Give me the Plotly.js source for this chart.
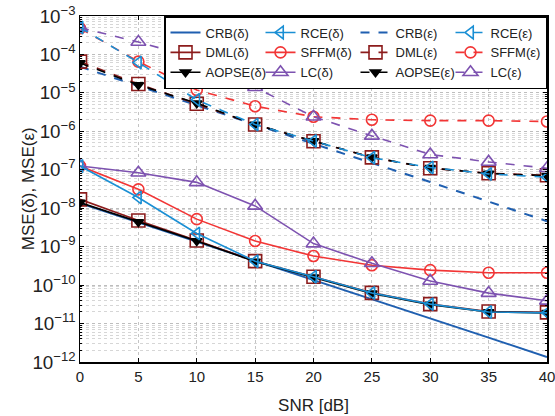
<!DOCTYPE html>
<html>
<head>
<meta charset="utf-8">
<script src="https://cdn.plot.ly/plotly-3.0.1.min.js"></script>
<style>html,body{margin:0;padding:0;background:#fff;}#chart{width:555px;height:416px;}</style>
</head>
<body>
<div id="chart"></div>
<script>
const snr = [0, 5, 10, 15, 20, 25, 30, 35, 40];

const crbD   = [1.35e-8, 4.3e-9, 1.35e-9, 4.3e-10, 1.35e-10, 4.3e-11, 1.35e-11, 4.3e-12, 1.35e-12];
const rceD   = [1.25e-7, 1.9e-8, 2.2e-9, 4.2e-10, 1.65e-10, 6.2e-11, 3.2e-11, 2.0e-11, 1.9e-11];
const dmlD   = [1.7e-8, 4.8e-9, 1.45e-9, 4.2e-10, 1.65e-10, 6.3e-11, 3.2e-11, 2.05e-11, 1.95e-11];
const aopseD = [1.4e-8, 4.4e-9, 1.4e-9, 4.1e-10, 1.6e-10, 6.1e-11, 3.1e-11, 2.0e-11, 1.9e-11];
const sffmD  = [1.25e-7, 3.1e-8, 5.2e-9, 1.4e-9, 5.7e-10, 3.3e-10, 2.45e-10, 2.1e-10, 2.1e-10];
const lcD    = [1.25e-7, 8.4e-8, 4.7e-8, 1.15e-8, 1.2e-9, 3.7e-10, 1.28e-10, 6.2e-11, 3.9e-11];

const crbE   = [4.8e-5, 1.5e-5, 4.8e-6, 1.5e-6, 4.8e-7, 1.5e-7, 4.8e-8, 1.5e-8, 4.6e-9];
const rceE   = [5.0e-4, 6.2e-5, 6.6e-6, 1.5e-6, 5.6e-7, 2.05e-7, 1.15e-7, 7.8e-8, 6.4e-8];
const dmlE   = [6.5e-5, 1.7e-5, 5.2e-6, 1.5e-6, 5.5e-7, 2.1e-7, 1.1e-7, 8.1e-8, 7.2e-8];
const aopseE = [6.0e-5, 1.6e-5, 5.4e-6, 1.5e-6, 5.6e-7, 2.1e-7, 1.12e-7, 8.0e-8, 7.0e-8];
const sffmE  = [4.8e-4, 6.5e-5, 1.19e-5, 4.5e-6, 2.4e-6, 2.0e-6, 1.9e-6, 1.9e-6, 1.8e-6];
const lcE    = [5.0e-4, 2.1e-4, 8.0e-5, 1.4e-5, 2.4e-6, 7.6e-7, 2.5e-7, 1.6e-7, 1.1e-7];

const C = {crb:'#1f5fb0', rce:'#1a8fd4', dml:'#8c1c1c', sffm:'#f23535', aopse:'#000000', lc:'#7d52b0'};

function tr(name, y, color, dash, symbol, size, rank, lw) {
  const t = {
    x: snr, y: y, name: name, type: 'scatter',
    mode: symbol ? 'lines+markers' : 'lines',
    legendrank: rank,
    line: {color: color, width: lw || 1.6, dash: dash}
  };
  if (symbol) {
    t.marker = {symbol: symbol, size: size, color: color, line: {color: color, width: 1.6}};
  }
  return t;
}

const data = [
  tr('CRB(δ)', crbD, C.crb, 'solid', null, 0, 1, 2),
  tr('CRB(ε)', crbE, C.crb, 'dash', null, 0, 3, 2),
  tr('DML(δ)', dmlD, C.dml, 'solid', 'square-open', 13, 5),
  tr('DML(ε)', dmlE, C.dml, 'dash', 'square-open', 13, 7),
  tr('AOPSE(δ)', aopseD, C.aopse, 'solid', 'triangle-down', 9, 9),
  tr('AOPSE(ε)', aopseE, C.aopse, 'dash', 'triangle-down', 9, 11),
  tr('SFFM(δ)', sffmD, C.sffm, 'solid', 'circle-open', 11, 6),
  tr('SFFM(ε)', sffmE, C.sffm, 'dash', 'circle-open', 11, 8),
  tr('LC(δ)', lcD, C.lc, 'solid', 'triangle-up-open', 13, 10),
  tr('LC(ε)', lcE, C.lc, 'dash', 'triangle-up-open', 13, 12),
  tr('RCE(δ)', rceD, C.rce, 'solid', 'triangle-left-open', 11, 2),
  tr('RCE(ε)', rceE, C.rce, 'dash', 'triangle-left-open', 11, 4)
];

const font = 'Liberation Sans, Arial, Helvetica, sans-serif';

const layout = {
  width: 555, height: 416,
  margin: {l: 80, r: 8, t: 16, b: 54},
  paper_bgcolor: '#fff', plot_bgcolor: '#fff',
  font: {family: font, color: '#222'},
  showlegend: true,
  legend: {
    orientation: 'h', x: 1, xanchor: 'right', y: 1, yanchor: 'top',
    bgcolor: '#fff', bordercolor: '#000', borderwidth: 1.5,
    font: {family: font, size: 13, color: '#222'},
    entrywidth: 50, entrywidthmode: 'pixels', itemwidth: 30
  },
  annotations: [{
    text: 'MSE(δ), MSE(ε)', textangle: -90, showarrow: false,
    xref: 'paper', yref: 'paper', x: -0.111, y: 0.5, xanchor: 'center', yanchor: 'middle',
    font: {family: font, size: 17, color: '#222'}
  }],
  xaxis: {
    range: [0, 40], dtick: 5, tick0: 0,
    showline: true, linecolor: '#000', linewidth: 1.5, mirror: 'ticks',
    ticks: 'inside', ticklen: 4, tickcolor: '#000',
    showgrid: true, gridcolor: '#c4c4c4', griddash: 'dot', gridwidth: 1,
    zeroline: false, ticklabeloverflow: 'allow',
    tickfont: {family: font, size: 15, color: '#222'},
    title: {text: 'SNR [dB]', font: {family: font, size: 17, color: '#222'}, standoff: 15}
  },
  yaxis: {
    type: 'log', range: [-12, -3], dtick: 1,
    exponentformat: 'power',
    showline: true, linecolor: '#000', linewidth: 1.5, mirror: 'ticks',
    ticks: 'inside', ticklen: 4, tickcolor: '#000',
    showgrid: true, gridcolor: '#bdbdbd', griddash: 'dot', gridwidth: 1,
    zeroline: false,
    minor: {dtick: 'D1', showgrid: true, gridcolor: '#d6d6d6', griddash: 'dot', gridwidth: 1, ticks: 'inside', ticklen: 2, tickcolor: '#000'},
    tickfont: {family: font, size: 15, color: '#222'}
  }
};

Plotly.newPlot('chart', data, layout, {displayModeBar: false, staticPlot: true});
</script>
</body>
</html>
